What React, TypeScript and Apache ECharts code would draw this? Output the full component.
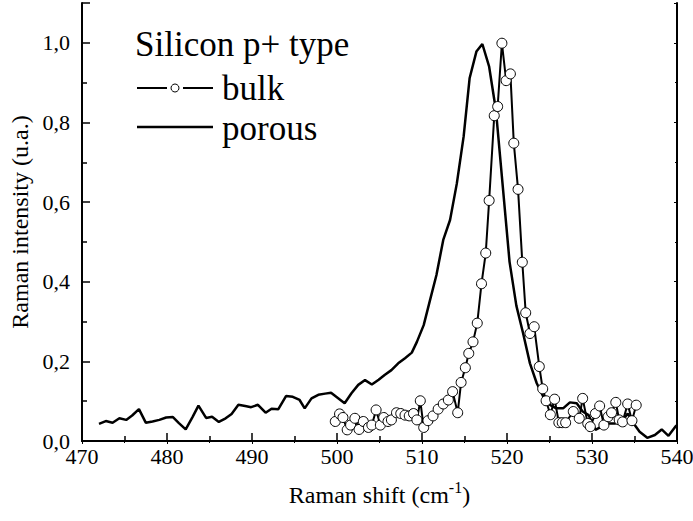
import React, { useEffect, useRef } from "react";
import * as echarts from "echarts";

const porousX = [
  472.0, 472.8, 473.6, 474.4, 475.2, 475.9, 476.7, 477.5, 478.3, 479.1, 479.9, 480.7, 481.4, 482.2, 483.0,
  483.7, 484.6, 485.3, 486.1, 486.9, 487.6, 488.4, 489.2, 489.9, 490.7, 491.6, 492.3, 493.1, 494.0, 494.8,
  495.6, 496.2, 497.0, 497.8, 498.6, 499.3, 500.1, 500.9, 501.7, 502.5, 503.3, 504.1, 504.9, 505.6, 506.4,
  507.2, 508.0, 508.8, 509.4, 510.2, 510.9, 511.7, 512.5, 513.3, 514.1, 514.9, 515.6, 516.4, 517.1, 517.9,
  518.7, 519.5, 520.3, 521.1, 521.9, 522.7, 523.5, 524.3, 525.1, 525.8, 526.6, 527.4, 528.2, 528.9, 529.6,
  530.4, 531.1, 531.9, 532.7, 533.5, 534.2, 534.9, 535.6, 536.5, 537.4, 538.2, 539.0, 539.8, 540.0,
];
const porousY = [
  0.043, 0.05, 0.046, 0.057, 0.053, 0.064, 0.08, 0.046, 0.049, 0.053, 0.059, 0.06, 0.045, 0.029, 0.06,
  0.089, 0.058, 0.061, 0.048, 0.057, 0.068, 0.091, 0.088, 0.085, 0.091, 0.071, 0.081, 0.08, 0.113, 0.111,
  0.103, 0.082, 0.107, 0.116, 0.119, 0.121, 0.108, 0.095, 0.12, 0.141, 0.153, 0.142, 0.154, 0.166, 0.178,
  0.195, 0.208, 0.222, 0.249, 0.291, 0.35, 0.417, 0.505, 0.555, 0.647, 0.765, 0.911, 0.978, 0.997, 0.94,
  0.83, 0.64, 0.45, 0.34, 0.27, 0.195, 0.145, 0.11, 0.09, 0.082, 0.082, 0.097, 0.095, 0.074, 0.065,
  0.028, 0.036, 0.044, 0.044, 0.048, 0.069, 0.044, 0.023, 0.008, 0.015, 0.029, 0.013, 0.036, 0.04,
];

const bulkX = [
  499.8, 500.3, 500.7, 501.2, 501.6, 502.1, 502.6, 503.1, 503.7, 504.1, 504.6, 505.1, 505.5, 506.0, 506.4,
  507.0, 507.5, 508.0, 508.5, 509.0, 509.4, 509.8, 510.2, 510.7, 511.3, 511.9, 512.5, 513.1, 513.6, 514.2,
  514.6, 515.1, 515.5, 516.0, 516.5, 517.0, 517.5, 517.9, 518.5, 518.9, 519.4, 519.9, 520.4, 520.8, 521.3,
  521.8, 522.2, 522.7, 523.2, 523.8, 524.2, 524.6, 525.1, 525.6, 526.1, 526.5, 526.9, 527.8, 528.5, 528.9,
  529.5, 529.8, 530.4, 530.9, 531.4, 531.9, 532.3, 532.8, 533.2, 533.6, 534.2, 534.7, 535.2,
];
const bulkY = [
  0.049, 0.068, 0.059, 0.028, 0.04, 0.057, 0.029, 0.049, 0.034, 0.04, 0.078, 0.04, 0.059, 0.049, 0.053,
  0.071, 0.069, 0.065, 0.063, 0.069, 0.053, 0.101, 0.034, 0.051, 0.063, 0.08, 0.093, 0.103, 0.124, 0.071,
  0.147, 0.184, 0.22, 0.249, 0.296, 0.395, 0.472, 0.604, 0.817, 0.84, 0.999, 0.905, 0.922, 0.748, 0.632,
  0.449, 0.322, 0.27, 0.287, 0.187, 0.131, 0.101, 0.066, 0.105, 0.046, 0.046, 0.046, 0.074, 0.057, 0.107,
  0.044, 0.036, 0.069, 0.088, 0.04, 0.061, 0.071, 0.097, 0.053, 0.048, 0.093, 0.051, 0.09,
];

const legendTitle = "Silicon p+ type";
const seriesNames = ["bulk", "porous"];

const FONT = "Liberation Serif";

export default function App() {
  const ref = useRef<HTMLDivElement>(null);
  useEffect(() => {
    if (!ref.current) return;
    const chart = echarts.init(ref.current, null, { renderer: "svg" });
    const fmt = (v: number) => v.toFixed(1).replace(".", ",");
    const baseAxisLine = { show: true, lineStyle: { color: "#000", width: 2 } };
    const txt = (text: string, x: number, y: number) => ({
      type: "text",
      x,
      y,
      style: { text, fontFamily: FONT, fontSize: 35, fill: "#000", textVerticalAlign: "middle" },
    });
    chart.setOption({
      animation: false,
      backgroundColor: "#fff",
      textStyle: { fontFamily: FONT },
      grid: { left: 82, right: 16, top: 3, bottom: 80, containLabel: false, outerBoundsMode: "none" },
      xAxis: [
        {
          type: "value",
          min: 470,
          max: 540,
          interval: 10,
          position: "bottom",
          axisLine: baseAxisLine,
          axisTick: { show: true, inside: true, length: 8, lineStyle: { color: "#000", width: 1.5 } },
          minorTick: { show: true, splitNumber: 2, length: 5, lineStyle: { color: "#000", width: 1.5 } },
          splitLine: { show: false },
          axisLabel: { color: "#000", fontFamily: FONT, fontSize: 22, margin: 4 },
          name: "{n|Raman shift (cm}{s|-1}{n|)}",
          nameLocation: "middle",
          nameGap: 38,
          nameTextStyle: {
            rich: {
              n: { fontFamily: FONT, fontSize: 24, color: "#000" },
              s: { fontFamily: FONT, fontSize: 16, color: "#000", padding: [0, 0, 16, 0] },
            },
          },
        },
        {
          type: "value",
          min: 470,
          max: 540,
          interval: 10,
          position: "top",
          axisLine: baseAxisLine,
          axisTick: { show: true, inside: true, length: 3, lineStyle: { color: "#000" } },
          minorTick: { show: true, splitNumber: 2, length: 2, lineStyle: { color: "#000" } },
          splitLine: { show: false },
          axisLabel: { show: false },
        },
      ],
      yAxis: [
        {
          type: "value",
          min: 0,
          max: 1.1,
          interval: 0.2,
          position: "left",
          axisLine: baseAxisLine,
          axisTick: { show: true, inside: true, length: 8, lineStyle: { color: "#000", width: 1.5 } },
          minorTick: { show: true, splitNumber: 2, length: 5, lineStyle: { color: "#000", width: 1.5 } },
          splitLine: { show: false },
          axisLabel: {
            color: "#000",
            fontFamily: FONT,
            fontSize: 22,
            margin: 12,
            showMaxLabel: false,
            formatter: fmt,
          },
          name: "Raman intensity (u.a.)",
          nameLocation: "middle",
          nameGap: 50,
          nameTextStyle: { fontFamily: FONT, fontSize: 24, color: "#000" },
        },
        {
          type: "value",
          min: 0,
          max: 1.1,
          interval: 0.2,
          position: "right",
          axisLine: baseAxisLine,
          axisTick: { show: true, inside: true, length: 3, lineStyle: { color: "#000" } },
          minorTick: { show: true, splitNumber: 2, length: 2, lineStyle: { color: "#000" } },
          splitLine: { show: false },
          axisLabel: { show: false },
        },
      ],
      series: [
        {
          name: seriesNames[1],
          type: "line",
          data: porousX.map((x, i) => [x, porousY[i]]),
          showSymbol: false,
          lineStyle: { color: "#000", width: 2.5 },
          z: 2,
        },
        {
          name: seriesNames[0],
          type: "line",
          data: bulkX.map((x, i) => [x, bulkY[i]]),
          symbol: "circle",
          symbolSize: 10,
          itemStyle: { color: "#fff", borderColor: "#000", borderWidth: 1 },
          lineStyle: { color: "#000", width: 2 },
          z: 3,
        },
      ],
      graphic: [
        txt(legendTitle, 135, 44),
        { type: "line", shape: { x1: 137, y1: 88, x2: 167, y2: 88 }, style: { stroke: "#000", lineWidth: 2 } },
        { type: "circle", shape: { cx: 175, cy: 88, r: 4 }, style: { fill: "#fff", stroke: "#000", lineWidth: 1 } },
        { type: "line", shape: { x1: 183, y1: 88, x2: 213, y2: 88 }, style: { stroke: "#000", lineWidth: 2 } },
        txt(seriesNames[0], 222, 88),
        { type: "line", shape: { x1: 137, y1: 127, x2: 213, y2: 127 }, style: { stroke: "#000", lineWidth: 2.5 } },
        txt(seriesNames[1], 222, 128),
      ],
    });
    return () => chart.dispose();
  }, []);
  return <div ref={ref} style={{ width: 693, height: 521, position: "absolute", left: 0, top: 0 }} />;
}
